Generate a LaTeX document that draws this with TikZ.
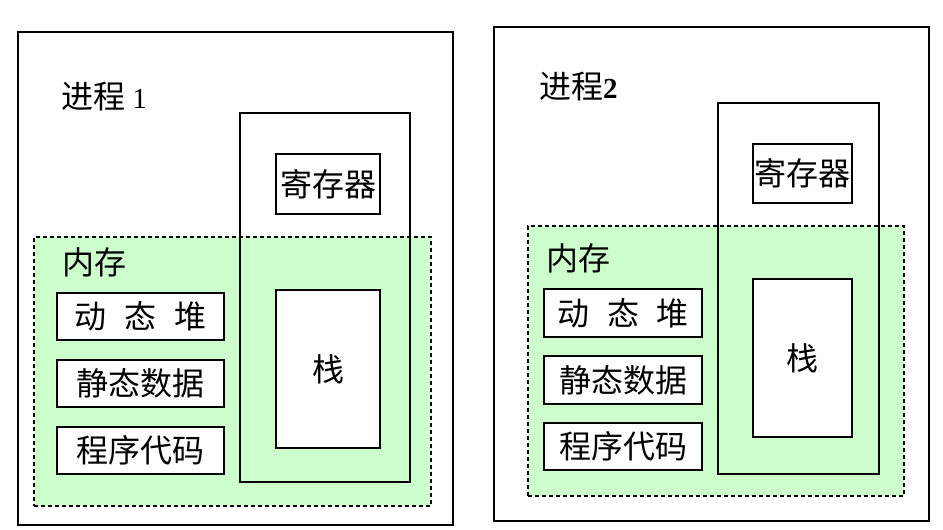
\documentclass[tikz,border=0pt]{standalone}
\usepackage{fontspec}
\setmainfont{Liberation Serif}
\newfontfamily\cjk{Noto Sans CJK SC}
\definecolor{memgreen}{HTML}{CCFFCC}
\begin{document}
\begin{tikzpicture}[x=1pt,y=-1pt,
  frame/.style={draw=black, line width=1.2pt, rectangle, inner sep=0pt},
  membox/.style={draw=black, line width=1.1pt, fill=memgreen, dash pattern=on 4pt off 3pt, rectangle, inner sep=0pt},
  wbox/.style={frame, fill=white, font=\cjk\fontsize{32}{32}\selectfont},
  lbl/.style={anchor=west, inner sep=0pt, font=\cjk\fontsize{32}{32}\selectfont}]
\useasboundingbox (0,0) rectangle (943,530);
% ---------- process 1 ----------
\node[frame, minimum width=435, minimum height=493] (outer1) at (235.5,278.5) {};
\node[lbl] (title1) at (61,97) {进程\ {\rmfamily\fontsize{29}{29}\selectfont 1}};
\node[membox, minimum width=397, minimum height=269] (mem1) at (232.5,371.5) {};
\node[frame, minimum width=170, minimum height=369] (stk1) at (325,297.5) {};
\node[wbox, minimum width=104, minimum height=60] (reg1) at (328,184) {寄存器};
\node[lbl] (memlbl1) at (62,262) {内存};
\node[wbox, minimum width=167, minimum height=47] (heap1) at (140.5,316.5) {动\hspace{0.55em}态\hspace{0.55em}堆\hspace{0.3em}};
\node[wbox, minimum width=167, minimum height=47] (static1) at (140.5,383.5) {静态数据\hspace{0.3em}};
\node[wbox, minimum width=167, minimum height=47] (code1) at (140.5,450.5) {程序代码\hspace{0.3em}};
\node[wbox, minimum width=104, minimum height=158] (stack1) at (328,369) {栈};
% ---------- process 2 ----------
\node[frame, minimum width=435, minimum height=494] (outer2) at (711.5,274) {};
\node[lbl] (title2) at (539,87) {进程{\rmfamily\bfseries\fontsize{29}{29}\selectfont 2}};
\node[membox, minimum width=376, minimum height=270] (mem2) at (716,361) {};
\node[frame, minimum width=161, minimum height=371] (stk2) at (798.5,288.5) {};
\node[wbox, minimum width=99, minimum height=59] (reg2) at (802.5,173.5) {寄存器};
\node[lbl] (memlbl2) at (546,258) {内存};
\node[wbox, minimum width=158, minimum height=48] (heap2) at (623,313) {动\hspace{0.55em}态\hspace{0.55em}堆};
\node[wbox, minimum width=158, minimum height=48] (static2) at (623,380) {静态数据};
\node[wbox, minimum width=158, minimum height=47] (code2) at (623,446.5) {程序代码};
\node[wbox, minimum width=99, minimum height=158] (stack2) at (802.5,358) {栈};
\end{tikzpicture}
\end{document}
